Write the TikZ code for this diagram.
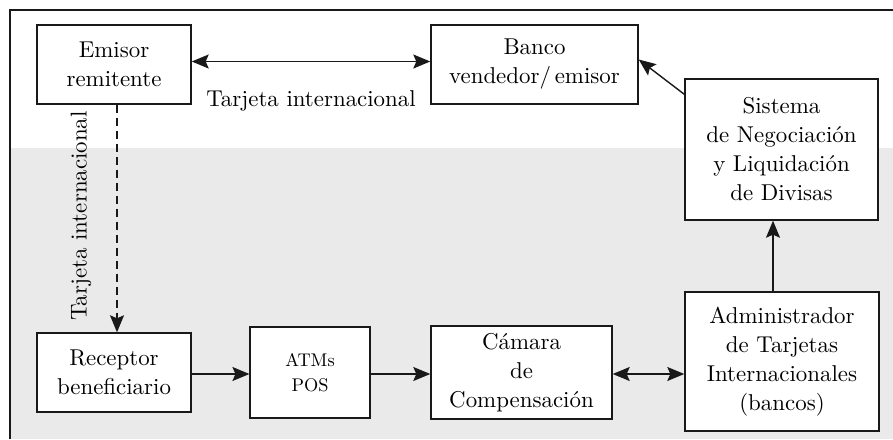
\documentclass[tikz,border=0pt]{standalone}
\usepackage{fontspec}
\setmainfont{lmroman10-regular.otf}[BoldFont=lmroman10-bold.otf,ItalicFont=lmroman10-italic.otf]
\usetikzlibrary{arrows.meta}
\definecolor{bgray}{RGB}{233,234,233}
\newcommand\mainsz{\fontsize{22.9pt}{29pt}\selectfont}
\newcommand\atmsz{\fontsize{22.9pt}{31.25pt}\selectfont}
\begin{document}
\begin{tikzpicture}[x=1pt,y=-1pt,
  box/.style={draw=black!90,line width=1.4pt,fill=white,align=center,inner sep=0pt,
    font=\mainsz},
  tip/.tip={Stealth[length=17pt,width=14pt,inset=3pt]},
  arr/.style={line width=1.4pt,draw=black!90,-tip},
  darr/.style={line width=1.4pt,draw=black!90,tip-tip},
  lbl/.style={font=\mainsz,inner sep=0pt}]
\useasboundingbox (0,0) rectangle (893,439);
\fill[bgray] (10,148) rectangle (893,439);
\draw[line width=1.4pt,black!90] (10,439) -- (10,10) -- (893,10);

\node[box,minimum width=154pt,minimum height=79pt] (emi) at (114,64.5) {Emisor\\remitente};
\node[box,minimum width=207pt,minimum height=79pt] (ban) at (534.5,64.5) {Banco\\vendedor/\,emisor};
\node[box,minimum width=193pt,minimum height=141pt] (sis) at (781.5,149.5) {Sistema\\de Negociación\\y Liquidación\\de Divisas};
\node[box,minimum width=194pt,minimum height=139pt] (adm) at (782,361.5) {Administrador\\de Tarjetas\\Internacionales\\(bancos)};
\node[box,minimum width=181pt,minimum height=93pt] (cam) at (521.5,372.5) {Cámara\\de\\Compensación};
\node[box,font=\atmsz,scale=0.8,transform shape,minimum width=150pt,minimum height=113.75pt] (atm) at (310,372.5) {ATMs\\POS};
\node[box,minimum width=154pt,minimum height=79pt] (rec) at (114,372.5) {Receptor\\beneficiario};

\draw[darr] ([yshift=3pt]emi.east) -- ([yshift=3pt]ban.west);
\node[lbl] (t1) at (311,100.5) {Tarjeta internacional};
\draw[arr,dashed,dash pattern=on 8pt off 5pt] ([xshift=3pt]emi.south) -- ([xshift=3pt]rec.north);
\node[lbl,rotate=90] (t2) at (81,216) {Tarjeta internacional};
\draw[arr] ([yshift=-16pt]sis.north west) -- ([yshift=5pt]ban.east);
\draw[arr] ([xshift=-9pt]adm.north) -- ([xshift=-8.5pt]sis.south);
\draw[arr] (rec.east |- 0,374) -- (atm.west |- 0,374);
\draw[arr] (atm.east |- 0,374) -- (cam.west |- 0,374);
\draw[darr] (cam.east |- 0,374) -- (adm.west |- 0,374);
\end{tikzpicture}
\end{document}
